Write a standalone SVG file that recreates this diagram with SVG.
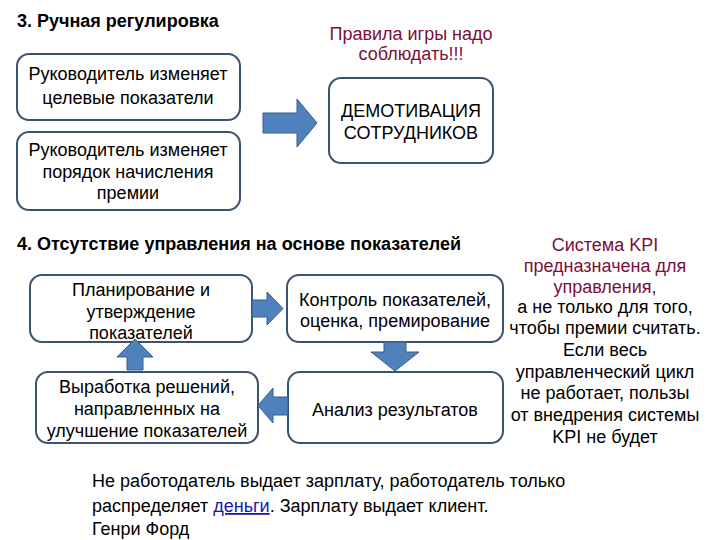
<svg xmlns="http://www.w3.org/2000/svg" width="720" height="540" viewBox="0 0 720 540">
<style>
.box{fill:#fff;stroke:#3b5270;stroke-width:2}
.arr{fill:#4f81bd;stroke:#385d8a;stroke-width:1}
.t{font-family:"Liberation Sans",Arial,sans-serif;font-size:18px;fill:#000;text-anchor:middle}
.h{font-family:"Liberation Sans",Arial,sans-serif;font-size:18px;font-weight:bold;fill:#000}
.red{fill:#7a0f3a}
.q{font-family:"Liberation Sans",Arial,sans-serif;font-size:18px;fill:#000}
</style>
<rect width="720" height="540" fill="#fff"/>
<text class="h" x="17" y="27">3. Ручная регулировка</text>
<text class="t red" x="411" y="40">Правила игры надо</text>
<text class="t red" x="411" y="60">соблюдать!!!</text>
<g id="n1"><rect class="box" x="17" y="54" width="223" height="66" rx="12"/>
<text class="t" x="128" y="80">Руководитель изменяет</text>
<text class="t" x="128" y="104">целевые показатели</text></g>
<g id="n2"><rect class="box" x="17" y="132" width="223" height="78" rx="12"/>
<text class="t" x="128" y="156">Руководитель изменяет</text>
<text class="t" x="128" y="178">порядок начисления</text>
<text class="t" x="128" y="199">премии</text></g>
<g id="n3"><rect class="box" x="329" y="78" width="164" height="85" rx="12"/>
<text class="t" x="411" y="117">ДЕМОТИВАЦИЯ</text>
<text class="t" x="411" y="139">СОТРУДНИКОВ</text></g>
<text class="h" x="17" y="250">4. Отсутствие управления на основе показателей</text>
<g id="n4"><rect class="box" x="30" y="275" width="222" height="67" rx="12"/>
<text class="t" x="141" y="296">Планирование и</text>
<text class="t" x="141" y="318">утверждение</text>
<text class="t" x="141" y="339">показателей</text></g>
<g id="n5"><rect class="box" x="287" y="275" width="216" height="67" rx="12"/>
<text class="t" x="395" y="306">Контроль показателей,</text>
<text class="t" x="395" y="327">оценка, премирование</text></g>
<g id="n6"><rect class="box" x="288" y="372" width="215" height="71" rx="12"/>
<text class="t" x="395" y="416">Анализ результатов</text></g>
<g id="n7"><rect class="box" x="36" y="372" width="222" height="71" rx="12"/>
<text class="t" x="147" y="393">Выработка решений,</text>
<text class="t" x="147" y="415">направленных на</text>
<text class="t" x="147" y="437">улучшение показателей</text></g>
<g id="connectors">
<path class="arr" d="M263,113 H297 V99 L317,123 L297,147 V133 H263 Z"/>
<path class="arr" d="M252,300 H267 V292 L283,308.5 L267,325 V317 H252 Z"/>
<path class="arr" d="M384,342 H406 V352 H419 L395,371 L371,352 H384 Z"/>
<path class="arr" d="M288,397 H273 V388 L258,405.5 L273,423 V415 H288 Z"/>
<path class="arr" d="M127,370 V357 H117 L135,339 L153,357 H143 V370 Z"/>
</g>
<g id="kpi">
<text class="t red" x="605" y="251">Система KPI</text>
<text class="t red" x="605" y="272">предназначена для</text>
<text class="t red" x="605" y="293">управления,</text>
<text class="t" x="605" y="313">а не только для того,</text>
<text class="t" x="605" y="334">чтобы премии считать.</text>
<text class="t" x="605" y="356">Если весь</text>
<text class="t" x="605" y="378">управленческий цикл</text>
<text class="t" x="605" y="399">не работает, пользы</text>
<text class="t" x="605" y="421">от внедрения системы</text>
<text class="t" x="605" y="443">KPI не будет</text>
</g>
<g id="quote">
<text class="q" x="92" y="487">Не работодатель выдает зарплату, работодатель только</text>
<text class="q" x="92" y="512">распределяет <tspan fill="#1a1aa6" text-decoration="underline">деньги</tspan>. Зарплату выдает клиент.</text>
<text class="q" x="92" y="535">Генри Форд</text>
</g>
</svg>
